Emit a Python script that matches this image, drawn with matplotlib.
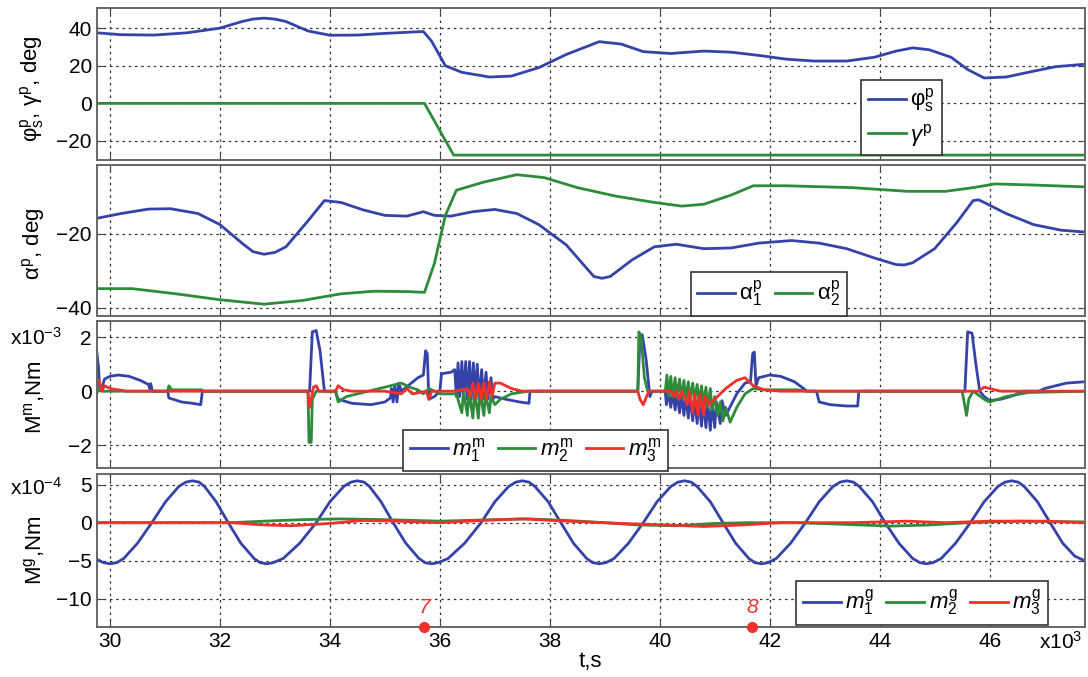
import matplotlib
matplotlib.use("Agg")
import matplotlib.pyplot as plt

plt.rcParams['font.family'] = ['Liberation Sans', 'DejaVu Sans']
plt.rcParams['mathtext.fontset'] = 'custom'
plt.rcParams['mathtext.rm'] = 'Liberation Sans'
plt.rcParams['mathtext.it'] = 'Liberation Sans:italic'
plt.rcParams['mathtext.bf'] = 'Liberation Sans:bold'

BLUE = '#3543a8'
GREEN = '#2e8b3a'
RED = '#f0302a'

# czas w tys. sekund
phi_t = [29.76, 30.2, 30.8, 31.4, 32.0, 32.4, 32.6, 32.8, 33.0, 33.2, 33.6, 34.0, 34.5, 35.0,
         35.7, 35.85, 36.1, 36.4, 36.9, 37.3, 37.8, 38.3, 38.9, 39.3, 39.7, 40.2, 40.8, 41.3,
         41.8, 42.3, 42.8, 43.4, 43.9, 44.3, 44.6, 44.9, 45.3, 45.6, 45.9, 46.3, 46.7, 47.2,
         47.73]
phi_v = [37.5, 36.5, 36.3, 37.5, 40, 43.5, 44.8, 45.3, 44.8, 43.5, 38.5, 36.2, 36.3, 37.2,
         38.2, 33, 20, 16.5, 14, 14.5, 19, 26, 32.8, 31.5, 27.5, 26.5, 27.8, 27.2,
         25.5, 23.5, 22.5, 22.5, 24.5, 27.8, 29.5, 28.5, 24.5, 18, 13.5, 14, 16.5, 19.5,
         20.8]
gam_t = [29.76, 35.72, 36.25, 47.73]
gam_v = [0, 0, -27.5, -27.5]

a1_t = [29.76, 30.2, 30.7, 31.1, 31.6, 32.0, 32.4, 32.6, 32.8, 33.0, 33.2, 33.6, 33.9, 34.2,
        34.6, 35.0, 35.4, 35.7, 35.9, 36.2, 36.6, 37.0, 37.4, 37.8, 38.3, 38.8, 38.95, 39.1,
        39.5, 39.9, 40.3, 40.8, 41.3, 41.8, 42.4, 42.9, 43.4, 43.9, 44.3, 44.45, 44.6, 45.0,
        45.4, 45.7, 45.8, 45.9, 46.3, 46.8, 47.3, 47.73]
a1_v = [-15.8, -14.5, -13.3, -13.2, -14.5, -17.5, -22.5, -24.8, -25.5, -25.0, -23.5, -16.5,
        -11.0, -11.5, -13.5, -15, -15.2, -14, -15, -15.2, -14, -13.4, -14.5, -17.5, -23,
        -31.5, -32, -31.5, -27, -23.5, -22.8, -24, -23.8, -22.5, -21.8, -22.5, -24, -26.5,
        -28.3, -28.4, -27.8, -24, -17, -11, -10.8, -11.5, -14.5, -17.5, -19, -19.5]
a2_t = [29.76, 30.4, 31.2, 32.0, 32.8, 33.5, 34.2, 34.8, 35.4, 35.72, 35.9, 36.1, 36.3, 36.8,
        37.4, 37.9, 38.5, 39.2, 39.9, 40.4, 40.8, 41.3, 41.7, 42.3, 43.5, 44.5, 45.2, 45.7,
        46.1, 46.8, 47.73]
a2_v = [-34.8, -34.8, -36.2, -37.8, -39, -38, -36.2, -35.5, -35.6, -35.8, -28, -15, -8.2, -6,
        -4, -4.8, -7.5, -9.8, -11.5, -12.5, -12, -9.5, -7, -7, -7.5, -8.5, -8.5, -7.5,
        -6.5, -6.8, -7.3]

# M^m w 1e-3 Nm
mm1_t = [29.76, 29.79, 29.81, 29.85, 29.9, 30.0, 30.15, 30.35, 30.55, 30.7, 30.72, 30.74, 30.77,
         31.05, 31.07, 31.3, 31.5, 31.65, 31.68,
         33.63, 33.68, 33.75, 33.82, 33.9,
         34.1, 34.15, 34.4, 34.75, 35.0, 35.1, 35.12, 35.15, 35.18, 35.22, 35.25, 35.3, 35.45,
         35.6, 35.7, 35.74, 35.77, 35.8, 35.9, 36.0, 36.03, 36.2, 36.27, 36.3, 36.33, 36.36,
         36.4, 36.43, 36.47, 36.5, 36.54, 36.57, 36.61, 36.64, 36.68, 36.71, 36.76, 36.79,
         36.84, 36.87, 36.93, 36.96, 37.0, 37.2, 37.45, 37.62, 37.64,
         39.6, 39.64, 39.68, 39.75, 39.82, 39.86, 40.1, 40.12, 40.15, 40.2, 40.23, 40.28, 40.31,
         40.36, 40.39, 40.44, 40.47, 40.52, 40.55, 40.6, 40.63, 40.68, 40.71, 40.76, 40.79,
         40.84, 40.87, 40.92, 40.95, 41.0, 41.03, 41.1, 41.13, 41.2, 41.3, 41.4, 41.55, 41.65,
         41.69, 41.72, 41.75, 41.8, 42.0, 42.2, 42.45, 42.65, 42.68, 42.85, 42.9, 43.1, 43.4,
         43.6, 43.62,
         45.55, 45.6, 45.68, 45.75, 45.82, 45.9, 46.0, 46.2, 46.45, 46.6, 46.9, 47.0, 47.4, 47.73]
mm1_v = [1.45, 0.9, 0.15, 0.1, 0.45, 0.55, 0.6, 0.55, 0.4, 0.25, 0.1, 0.28, 0.0,
         0.0, -0.25, -0.4, -0.45, -0.5, 0.0,
         0.0, 2.2, 2.25, 1.5, 0.0,
         0.0, -0.3, -0.45, -0.5, -0.4, -0.25, 0.1, -0.4, 0.2, -0.4, 0.3, 0.0, 0.25,
         0.5, 0.6, 1.5, 1.4, -0.3, -0.2, 0.0, 0.65, 0.7, 0.8, -0.2, 1.05, -0.2,
         1.1, -0.25, 1.1, -0.3, 1.1, -0.3, 1.05, -0.3, 1.0, -0.3, 0.8, -0.3,
         0.7, -0.3, 0.5, -0.3, -0.2, -0.3, -0.4, -0.45, 0.0,
         0.0, 2.0, 2.1, 1.2, -0.2, 0.0, 0.0, -0.5, 0.0, -0.6, 0.0, -0.7, -0.05,
         -0.8, -0.1, -0.9, -0.15, -1.0, -0.2, -1.1, -0.25, -1.2, -0.3, -1.3, -0.35,
         -1.35, -0.4, -1.45, -0.45, -1.35, -0.4, -1.2, -0.35, -0.9, -0.5, -0.1, 0.3, 0.35,
         1.4, 1.45, 0.2, 0.5, 0.6, 0.55, 0.35, 0.05, 0.0, 0.0, -0.4, -0.5, -0.55,
         -0.55, 0.0,
         0.0, 2.2, 2.15, 1.0, 0.0, -0.2, -0.35, -0.3, -0.15, 0.0, 0.0, 0.1, 0.3, 0.35]

mm2_t = [29.76, 29.8, 29.85, 31.05, 31.07, 31.12, 31.67, 31.68,
         33.6, 33.62, 33.66, 33.68, 33.75,
         34.1, 34.15, 34.3, 34.6, 35.0, 35.3, 35.45, 35.6, 35.7, 35.8, 35.9, 36.0, 36.3,
         36.4, 36.43, 36.5, 36.53, 36.6, 36.63, 36.7, 36.73, 36.8, 36.83, 36.9, 36.93,
         37.0, 37.1, 37.3, 37.6,
         39.6, 39.62, 39.66, 39.72, 39.78, 40.1, 40.13, 40.16, 40.2, 40.23, 40.28, 40.31,
         40.36, 40.39, 40.44, 40.47, 40.52, 40.55, 40.6, 40.63, 40.68, 40.71, 40.76, 40.79,
         40.84, 40.87, 40.92, 40.95, 41.0, 41.05, 41.1, 41.15, 41.2, 41.28, 41.4, 41.55,
         41.7, 41.9, 42.5, 42.7,
         45.5, 45.58, 45.62, 45.7, 45.9, 46.0, 46.3, 46.7, 47.73]
mm2_v = [-0.1, 0.15, 0.0, 0.0, 0.2, 0.05, 0.05, 0.0,
         0.0, -1.9, -1.9, -0.3, 0.0,
         0.0, -0.4, -0.2, -0.05, 0.15, 0.3, 0.15, 0.05, -0.1, 0.1, 0.0, -0.1, -0.1,
         -0.8, 0.0, -0.9, 0.0, -1.0, 0.0, -1.0, 0.0, -0.9, -0.1, -0.8, -0.2,
         -0.5, -0.3, -0.1, 0.0,
         0.0, 2.2, 2.0, 0.5, 0.0, 0.0, 0.6, -0.2, 0.55, -0.2, 0.5, -0.25,
         0.45, -0.25, 0.4, -0.3, 0.35, -0.3, 0.3, -0.35, 0.25, -0.4, 0.2, -0.5,
         0.15, -0.6, 0.1, -0.7, -0.2, -0.9, -0.4, -1.1, -0.6, -1.15, -0.6, -0.1,
         0.1, 0.05, 0.05, 0.0,
         0.0, -0.9, -0.3, 0.0, -0.3, -0.4, -0.2, -0.05, 0.0]

mm3_t = [29.76, 29.8, 29.85, 29.9, 30.0, 30.3,
         33.6, 33.63, 33.66, 33.7, 33.75, 33.8,
         34.1, 34.15, 34.25, 34.4, 35.0, 35.3, 35.4, 35.5, 35.75, 35.8, 35.85,
         36.3, 36.5, 36.55, 36.6, 36.65, 36.7, 36.75, 36.8, 36.85, 36.9, 36.95, 37.0, 37.1,
         37.3, 37.5,
         39.6, 39.64, 39.7, 39.76, 39.8, 40.2, 40.25, 40.3, 40.35, 40.4, 40.5, 40.53, 40.6,
         40.63, 40.7, 40.73, 40.8, 40.83, 40.9, 41.0, 41.2, 41.4, 41.55, 41.7, 41.9, 42.2,
         45.8, 45.9, 46.0, 46.2, 47.73]
mm3_v = [0.3, 0.4, 0.0, 0.2, 0.1, 0.0,
         0.0, -0.6, -0.3, 0.15, 0.2, 0.0,
         0.0, 0.2, 0.05, 0.0, 0.0, -0.1, 0.1, -0.1, 0.0, -0.3, 0.0,
         0.0, 0.1, -0.2, 0.3, -0.25, 0.3, -0.3, 0.3, -0.3, 0.35, -0.2, 0.3, 0.3,
         0.1, 0.0,
         0.0, -0.3, -0.5, -0.2, 0.0, 0.0, -0.2, 0.0, -0.3, 0.0, -0.5, 0.0, -0.8,
         -0.1, -0.9, -0.1, -0.9, -0.2, -0.5, -0.3, 0.1, 0.4, 0.5, 0.2, 0.05, 0.0,
         0.0, 0.15, 0.1, 0.0, 0.0]

# M^g w 1e-4 Nm
mg1_t = [29.76, 29.88, 30.0, 30.12, 30.25, 30.5, 30.76, 31.01, 31.25, 31.38, 31.5, 31.62,
         31.72, 31.93, 32.15, 32.38, 32.62, 32.73, 32.85, 32.97, 33.15, 33.45, 33.75, 34.0,
         34.25, 34.38, 34.5, 34.62, 34.72, 34.93, 35.15, 35.38, 35.62, 35.73, 35.85, 35.97,
         36.15, 36.45, 36.75, 37.0, 37.25, 37.38, 37.5, 37.62, 37.73, 37.97, 38.2, 38.43,
         38.67, 38.78, 38.9, 39.02, 39.17, 39.43, 39.7, 39.95, 40.2, 40.33, 40.45, 40.57,
         40.68, 40.92, 41.15, 41.38, 41.62, 41.73, 41.85, 41.97, 42.12, 42.38, 42.65, 42.9,
         43.15, 43.28, 43.4, 43.52, 43.63, 43.87, 44.1, 44.35, 44.6, 44.73, 44.85, 44.97,
         45.12, 45.38, 45.65, 45.9, 46.15, 46.28, 46.4, 46.52, 46.63, 46.87, 47.1, 47.33,
         47.55, 47.73]
mg1_v = [-4.8, -5.25, -5.4, -5.25, -4.7, -2.7, 0, 2.75, 4.75, 5.33, 5.5, 5.33,
         4.75, 2.75, 0, -2.7, -4.7, -5.25, -5.4, -5.25, -4.7, -2.7, 0, 2.75,
         4.75, 5.33, 5.5, 5.33, 4.75, 2.75, 0, -2.7, -4.7, -5.25, -5.4, -5.25,
         -4.7, -2.7, 0, 2.75, 4.75, 5.33, 5.5, 5.33, 4.75, 2.75, 0, -2.7,
         -4.7, -5.25, -5.4, -5.25, -4.7, -2.7, 0, 2.75, 4.75, 5.33, 5.5, 5.33,
         4.75, 2.75, 0, -2.7, -4.7, -5.25, -5.4, -5.25, -4.7, -2.7, 0, 2.75,
         4.75, 5.33, 5.5, 5.33, 4.75, 2.75, 0, -2.7, -4.7, -5.25, -5.4, -5.25,
         -4.7, -2.7, 0, 2.75, 4.75, 5.33, 5.5, 5.33, 4.75, 2.75, 0, -2.7,
         -4.4, -5.0]
mg2_t = [29.76, 32.2, 32.8, 33.5, 34.2, 35.0, 36.0, 37.0, 37.6, 38.3, 39.0, 39.6, 40.3, 41.0,
         41.6, 42.5, 43.3, 44.2, 44.9, 45.6, 46.5, 47.73]
mg2_v = [0, 0, 0.2, 0.4, 0.5, 0.4, 0.2, 0.4, 0.5, 0.3, 0.0, -0.3, -0.4, -0.1,
         0.0, 0.0, -0.2, -0.45, -0.3, 0.0, 0.2, 0.1]
mg3_t = [29.76, 32.2, 32.8, 33.3, 34.0, 34.6, 35.2, 36.0, 36.8, 37.5, 38.3, 39.3, 40.1, 40.8,
         41.5, 42.2, 43.5, 44.5, 45.2, 46.0, 47.0, 47.73]
mg3_v = [0, 0, -0.3, -0.4, -0.1, 0.3, 0.2, 0.0, 0.3, 0.5, 0.2, -0.1, -0.3, -0.5,
         -0.3, 0.0, 0.0, 0.2, 0.0, 0.2, 0.2, 0.0]

# punkty 7 i 8
mark_t = [35.72, 41.68]
mark_lab = ['7', '8']

x_ticks = [30, 32, 34, 36, 38, 40, 42, 44, 46]


def style_axis(ax, ylim, yticks):
    ax.set_xlim(29.76, 47.73)
    ax.set_ylim(*ylim)
    ax.set_xticks(x_ticks)
    ax.set_yticks(yticks)
    ax.grid(True, color='#333333', linestyle=(0, (2, 3)), linewidth=0.9)
    ax.tick_params(direction='in', top=True, right=True, labelsize=15, length=5,
                   color='#444444')
    for s in ax.spines.values():
        s.set_color('#666666')
        s.set_linewidth(1.4)


def add_legend(ax, **kw):
    leg = ax.legend(fontsize=16, fancybox=False, framealpha=1, edgecolor='#333333',
                    handlelength=1.7, handletextpad=0.2, columnspacing=0.55,
                    borderpad=0.3, borderaxespad=0, **kw)
    leg.get_frame().set_linewidth(1.2)
    return leg


fig = plt.figure(figsize=(10.88, 6.77), dpi=100)
L, W = 0.089, 0.908
ax1 = fig.add_axes([L, 0.7637, W, 0.2245])
ax2 = fig.add_axes([L, 0.5332, W, 0.2230])
ax3 = fig.add_axes([L, 0.3087, W, 0.2170])
ax4 = fig.add_axes([L, 0.0739, W, 0.2260])

lw = 2.0

ax1.plot(phi_t, phi_v, color=BLUE, lw=lw, label=r'$\mathrm{\varphi^p_s}$')
ax1.plot(gam_t, gam_v, color=GREEN, lw=lw, label=r'$\gamma^\mathrm{p}$')
style_axis(ax1, (-30.1, 50.7), [-20, 0, 20, 40])
ax1.set_ylabel(r'$\mathrm{\varphi^p_s}$, $\mathrm{\gamma^p}$, deg', fontsize=16)
add_legend(ax1, loc='upper left', bbox_to_anchor=(0.774, 0.526), labelspacing=0.3)

ax2.plot(a1_t, a1_v, color=BLUE, lw=lw, label=r'$\mathrm{\alpha^p_1}$')
ax2.plot(a2_t, a2_v, color=GREEN, lw=lw, label=r'$\mathrm{\alpha^p_2}$')
style_axis(ax2, (-42.2, -1.4), [-40, -20])
ax2.set_ylabel(r'$\mathrm{\alpha^p}$, deg', fontsize=16)
add_legend(ax2, loc='lower left', bbox_to_anchor=(0.601, 0.0), ncol=2)

ax3.plot(mm1_t, mm1_v, color=BLUE, lw=lw, label=r'$m^\mathrm{m}_{\mathit{1}}$')
ax3.plot(mm2_t, mm2_v, color=GREEN, lw=lw, label=r'$m^\mathrm{m}_{\mathit{2}}$')
ax3.plot(mm3_t, mm3_v, color=RED, lw=lw, label=r'$m^\mathrm{m}_{\mathit{3}}$')
style_axis(ax3, (-2.85, 2.6), [-2, 0, 2])
ax3.set_ylabel(r'$\mathrm{M^m}$,Nm', fontsize=16)
add_legend(ax3, loc='lower left', bbox_to_anchor=(0.31, -0.02), ncol=3)
ax3.text(-0.088, 0.884, r'x10$^{-3}$', transform=ax3.transAxes, fontsize=15,
         va='center', ha='left')

ax4.plot(mg1_t, mg1_v, color=BLUE, lw=lw, label=r'$m^\mathrm{g}_{\mathit{1}}$')
ax4.plot(mg2_t, mg2_v, color=GREEN, lw=lw, label=r'$m^\mathrm{g}_{\mathit{2}}$')
ax4.plot(mg3_t, mg3_v, color=RED, lw=lw, label=r'$m^\mathrm{g}_{\mathit{3}}$')
style_axis(ax4, (-13.7, 6.4), [-10, -5, 0, 5])
ax4.set_ylabel(r'$\mathrm{M^g}$,Nm', fontsize=16)
add_legend(ax4, loc='lower left', bbox_to_anchor=(0.708, 0.013), ncol=3)
ax4.text(-0.088, 0.908, r'x10$^{-4}$', transform=ax4.transAxes, fontsize=15,
         va='center', ha='left')
ax4.text(0.998, -0.1, r'x10$^{3}$', transform=ax4.transAxes, fontsize=15,
         va='center', ha='right')
ax4.set_xlabel('t,s', fontsize=16, labelpad=0)

ax4.plot(mark_t, [-13.7] * len(mark_t), 'o', color=RED, ms=7, clip_on=False, zorder=5)
for t, lab in zip(mark_t, mark_lab):
    ax4.text(t, -12.4, lab, color=RED, fontsize=15, style='italic', ha='center', va='bottom')

for ax in (ax1, ax2, ax3):
    ax.tick_params(labelbottom=False)

for ax, yc in ((ax1, 0.47), (ax2, 0.48), (ax3, 0.48), (ax4, 0.5)):
    ax.yaxis.set_label_coords(-0.05, yc)

fig.savefig('out.png', dpi=100)
